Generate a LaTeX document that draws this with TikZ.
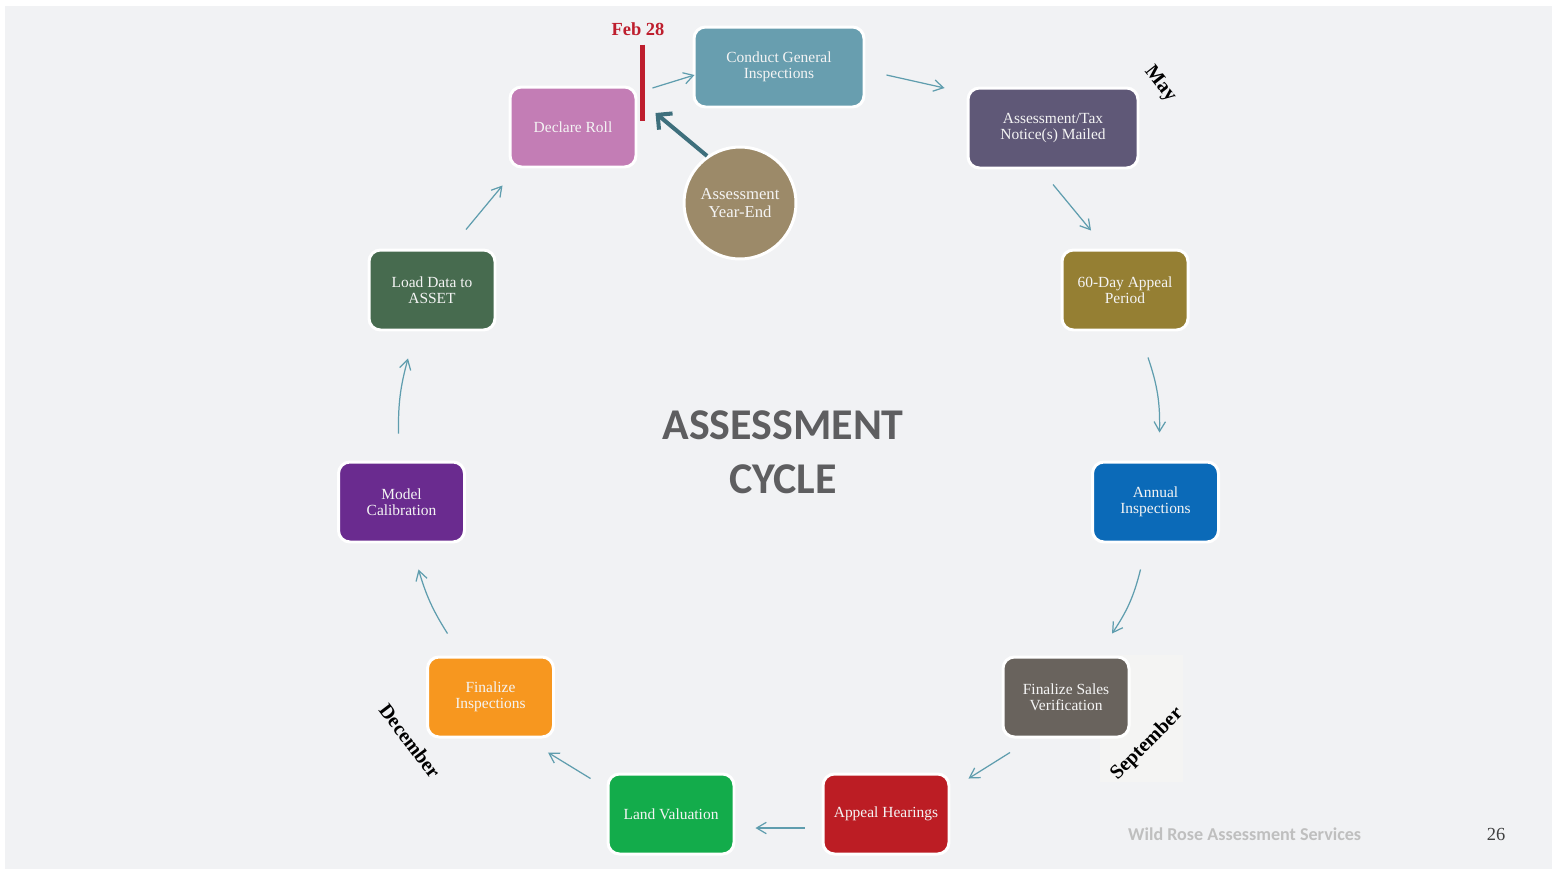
\documentclass[tikz,border=0pt]{standalone}
\usepackage{fontspec}
\setmainfont{Liberation Serif}
\newfontfamily\titlefont{Carlito}
\usepackage{tikz}
\usetikzlibrary{calc,arrows.meta}
\definecolor{slidebg}{HTML}{F1F2F4}
\definecolor{labelbg}{HTML}{F4F4F3}
\definecolor{boxtext}{HTML}{F4F4F4}
\definecolor{flowline}{HTML}{5F9DAE}
\definecolor{yearline}{HTML}{3E6F7C}
\definecolor{febred}{HTML}{BE1E2D}
\definecolor{titlegray}{HTML}{5E5E60}
\definecolor{footgray}{HTML}{BFBFBF}
\definecolor{pagegray}{HTML}{404040}
\definecolor{inspteal}{HTML}{689EAF}
\definecolor{mailpurple}{HTML}{5F5877}
\definecolor{appealolive}{HTML}{957F33}
\definecolor{annualblue}{HTML}{0B6AB8}
\definecolor{salesgray}{HTML}{69635D}
\definecolor{hearingred}{HTML}{BC1D24}
\definecolor{landgreen}{HTML}{13AC4B}
\definecolor{finorange}{HTML}{F7971F}
\definecolor{modelviolet}{HTML}{6A2B8F}
\definecolor{loadgreen}{HTML}{476B4F}
\definecolor{rollpink}{HTML}{C37DB5}
\definecolor{yearkhaki}{HTML}{9C8A69}

\begin{document}
\begin{tikzpicture}[
  x=0.02cm, y=-0.02cm,
  stepbox/.style={
    rectangle, rounded corners=6.5pt,
    draw=white, line width=1.7pt,
    minimum width=2.52cm, minimum height=1.6cm,
    align=center, text=boxtext,
    font=\fontsize{8.8}{9.2}\selectfont,
  },
  widebox/.style={stepbox, minimum width=3.4cm},
  flow/.style={draw=flowline, line width=0.7pt, -{Straight Barb[length=5.5pt,width=6.5pt]}},
  month/.style={font=\fontsize{11.5}{13}\selectfont\bfseries, text=black},
]

\useasboundingbox (0,0) rectangle (1557,869);
\fill[white] (0,0) rectangle (1557,869);
\fill[slidebg] (5,6) rectangle (1552,869);
\fill[labelbg] (1100,655) rectangle (1183,782);

\node[widebox, fill=inspteal] (insp) at (779,67) {Conduct General\\Inspections};
\node[widebox, fill=mailpurple] (mail) at (1053,128) {Assessment/Tax\\Notice(s) Mailed};
\node[stepbox, fill=appealolive] (appeal) at (1125,290) {60-Day Appeal\\Period};
\node[stepbox, fill=annualblue] (annual) at (1155.5,502) {Annual\\Inspections};
\node[stepbox, fill=salesgray] (sales) at (1066,697) {Finalize Sales\\Verification};
\node[stepbox, fill=hearingred] (hear) at (886,814) {Appeal Hearings};
\node[stepbox, fill=landgreen] (land) at (671,814) {Land Valuation};
\node[stepbox, fill=finorange] (finins) at (490.5,697) {Finalize\\Inspections};
\node[stepbox, fill=modelviolet] (model) at (401.5,502) {Model\\Calibration};
\node[stepbox, fill=loadgreen] (load) at (432,290) {Load Data to\\ASSET};
\node[stepbox, fill=rollpink] (roll) at (573,127) {Declare Roll};
\node[circle, fill=yearkhaki, draw=white, line width=1.7pt, minimum size=2.24cm,
  align=center, text=boxtext, font=\fontsize{9.5}{10.4}\selectfont] (yearend) at (740,203) {Assessment\\Year-End};

\draw[flow] ($(roll.east)+(15,-39)$) -- ($(insp.west)+(2,8)$);
\draw[flow] ($(insp.east)+(21,8)$) -- ($(mail.west)+(-22,-40)$);
\draw[flow] ($(mail.south)+(0,15)$) -- ($(appeal.north)+(-34,-18)$);
\draw[flow] ($(appeal.south)+(23,26)$) to[bend left=10] ($(annual.north)+(4,-28)$);
\draw[flow] ($(annual.south)+(-15,26)$) to[bend left=10] ($(sales.north)+(46,-22)$);
\draw[flow] ($(sales.south)+(-56,14)$) -- ($(hear.north east)+(18,6)$);
\draw[flow] ($(hear.west)+(-17,14)$) -- ($(land.east)+(20,14)$);
\draw[flow] ($(land.north west)+(-16,6)$) -- ($(finins.south east)+(-7,14)$);
\draw[flow] ($(finins.north)+(-43,-22)$) to[bend left=8] ($(model.south)+(17,26)$);
\draw[flow] ($(model.north)+(-3,-27)$) to[bend left=8] ($(load.south)+(-24,27)$);
\draw[flow] ($(load.north)+(34,-19)$) -- ($(roll.south west)+(-6,17)$);

\draw[yearline, line width=2.3pt, -{Straight Barb[length=6pt,width=12pt]}] (yearend.125) -- ($(roll.east)+(18,-14)$);
\draw[febred, line width=2.3pt] ($(roll.north east)+(5,-41)$) -- ++(0,76);
\node[font=\fontsize{10.5}{12}\selectfont\bfseries, text=febred] (feb) at (638,29) {Feb 28};

\node[month, rotate=-52] (may) at (1160,84) {May};
\node[month, rotate=45] (sep) at (1147,744) {September};
\node[month, rotate=-53] (dec) at (410,741) {December};

\node[align=center, text=titlegray, font=\titlefont\bfseries\fontsize{25}{30.6}\selectfont] (title) at (783,452) {ASSESSMENT\\CYCLE};
\node[anchor=west, text=footgray, font=\titlefont\bfseries\fontsize{10.3}{12}\selectfont] (footer) at (1122,834) {Wild Rose Assessment Services};
\node[text=pagegray, font=\fontsize{10.5}{12}\selectfont] (page) at (1496,834) {26};

\end{tikzpicture}
\end{document}
